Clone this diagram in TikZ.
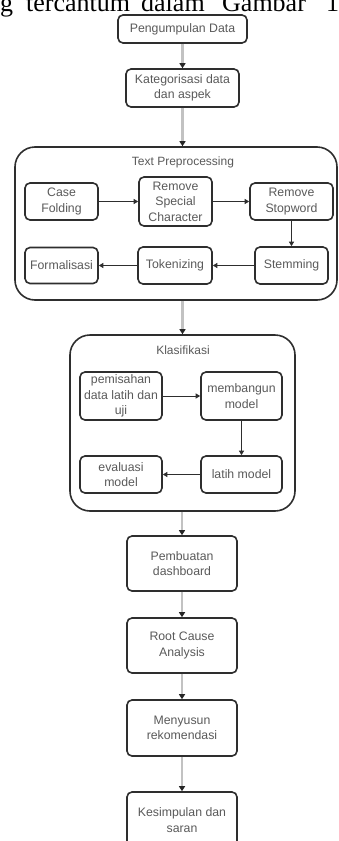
\documentclass[tikz,border=0pt]{standalone}
\usepackage{fontspec}
\setmainfont{Liberation Sans}
\newfontfamily\serifpara{Liberation Serif}
\usetikzlibrary{arrows.meta}
\definecolor{txtgray}{HTML}{5A5A5A}
\definecolor{edgegray}{HTML}{2E2E2E}
\definecolor{maingray}{HTML}{C2C2C2}
\tikzset{
  box/.style={draw=edgegray, line width=1.6pt, rounded corners=5pt, fill=white,
    text=txtgray, align=center, inner sep=1pt,
    font=\fontsize{12.3}{15.5}\selectfont},
  container/.style={draw=edgegray, line width=1.6pt, rounded corners=20pt, fill=white},
  ctitle/.style={text=txtgray, font=\fontsize{12}{15}\selectfont, inner sep=0pt},
  mainarrow/.style={draw=maingray, line width=2.8pt,
    -{Triangle[color=black!85, width=6pt, length=5pt]}},
  subarrow/.style={draw=edgegray, line width=0.9pt,
    -{Triangle[width=5pt, length=4.5pt]}},
  paratext/.style={font=\serifpara\fontsize{26}{30}\selectfont, inner sep=0pt, anchor=base west}
}
\begin{document}
\begin{tikzpicture}[x=1pt, y=-1pt]
\useasboundingbox (0,0) rectangle (338,841);
\clip (0,0) rectangle (338,841);
\fill[white] (0,0) rectangle (338,841);

% cut-off paragraph line at the top
\node[paratext] (w1) at (0,11.7) {g};
\node[paratext] (w2) at (26,11.7) {tercantum};
\node[paratext] (w3) at (141,11.7) {dalam};
\node[paratext] (w4) at (222,11.7) {Gambar};
\node[paratext] (w5) at (326,11.7) {1};

% main column
\node[box, minimum width=129pt, minimum height=28pt] (p1) at (182.5,29) {Pengumpulan Data};
\node[box, minimum width=113pt, minimum height=38pt] (p2) at (182.5,88) {Kategorisasi data\\dan aspek};

% Text Preprocessing container
\node[container, minimum width=322pt, minimum height=153pt] (tp) at (176,223.5) {};
\node[ctitle] (tpt) at (183,162) {Text Preprocessing};
\node[box, minimum width=73pt, minimum height=37pt] (cf) at (61.5,201.5) {Case\\Folding};
\node[box, minimum width=73pt, minimum height=49pt] (rsc) at (175.5,201.5) {Remove\\Special\\Character};
\node[box, minimum width=83pt, minimum height=37pt] (rs) at (291.5,201.5) {Remove\\Stopword};
\node[box, minimum width=73pt, minimum height=36pt] (fo) at (61.5,265.5) {Formalisasi};
\node[box, minimum width=74pt, minimum height=37pt] (tk) at (175,265.5) {Tokenizing};
\node[box, minimum width=73pt, minimum height=37pt] (st) at (291.5,265.5) {Stemming};

% Klasifikasi container
\node[container, minimum width=225pt, minimum height=176pt] (kl) at (182.5,423) {};
\node[ctitle] (klt) at (183,350) {Klasifikasi};
\node[box, minimum width=82pt, minimum height=48pt] (pm) at (121,396) {pemisahan\\data latih dan\\uji};
\node[box, minimum width=81pt, minimum height=48pt] (mb) at (241.5,396) {membangun\\model};
\node[box, minimum width=82pt, minimum height=37pt] (ev) at (121,474.5) {evaluasi\\model};
\node[box, minimum width=81pt, minimum height=37pt] (lm) at (241.5,474.5) {latih model};

% lower column
\node[box, minimum width=110pt, minimum height=55pt] (pd) at (182,563.5) {Pembuatan\\dashboard};
\node[box, minimum width=110pt, minimum height=55pt] (rc) at (182,645.5) {Root Cause\\Analysis};
\node[box, minimum width=110pt, minimum height=56pt] (mr) at (182,728) {Menyusun\\rekomendasi};
\node[box, minimum width=110pt, minimum height=56pt] (ks) at (182,820) {Kesimpulan dan\\saran};

% main arrows
\draw[mainarrow] (p1) -- (p2);
\draw[mainarrow] (p2.south) -- (p2.south |- tp.north);
\draw[mainarrow] (kl.north |- tp.south) -- (kl.north);
\draw[mainarrow] (kl.south -| pd.north) -- (pd.north);
\draw[mainarrow] (pd) -- (rc);
\draw[mainarrow] (rc) -- (mr);
\draw[mainarrow] (mr) -- (ks);

% inner arrows
\draw[subarrow] (cf) -- (rsc);
\draw[subarrow] (rsc) -- (rs);
\draw[subarrow] (rs) -- (st);
\draw[subarrow] (st) -- (tk);
\draw[subarrow] (tk) -- (fo);
\draw[subarrow] (pm) -- (mb);
\draw[subarrow] (mb) -- (lm);
\draw[subarrow] (lm) -- (ev);
\end{tikzpicture}
\end{document}
